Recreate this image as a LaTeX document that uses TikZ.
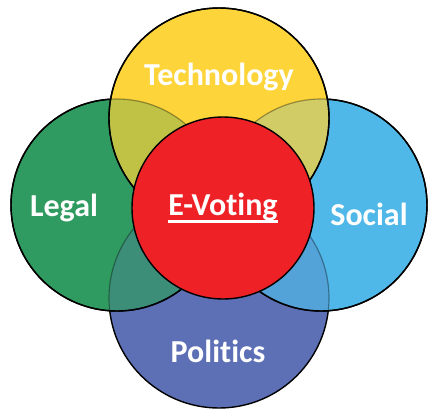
\documentclass[tikz,border=0pt]{standalone}
\usepackage{fontspec}
\usetikzlibrary{calc}
\setmainfont[Ligatures=NoCommon]{Carlito}
\definecolor{techY}{HTML}{FDD43A}
\definecolor{legalG}{HTML}{309B60}
\definecolor{socialB}{HTML}{50B8E8}
\definecolor{polP}{HTML}{5D70B6}
\definecolor{evR}{HTML}{EE2127}
\begin{document}
\begin{tikzpicture}[x=1pt,y=-1pt,
  ring/.style={circle,draw=black,line width=1.4pt,inner sep=0pt},
  lbl/.style={text=white,font=\bfseries\fontsize{32}{34}\selectfont}]
\useasboundingbox (0,0) rectangle (428,410);
\def\polC{(219,298) circle (110)}
\def\legC{(117,205) circle (106)}
\def\socC{(321,205) circle (106)}
\def\tecC{(219,118) circle (110)}
\node[ring,fill=polP,minimum size=220pt] (pol) at (219,298) {};
\node[ring,fill=legalG,minimum size=212pt] (legal) at (117,205) {};
\node[ring,fill=socialB,minimum size=212pt] (social) at (321,205) {};
\begin{scope}
  \clip \legC;
  \fill[polP,opacity=0.3] \polC;
  \draw[black,opacity=0.35,line width=1.2pt] \polC;
\end{scope}
\begin{scope}
  \clip \socC;
  \fill[polP,opacity=0.3] \polC;
  \draw[black,opacity=0.35,line width=1.2pt] \polC;
\end{scope}
\draw[black,line width=1.4pt] \legC \socC;
\node[ring,fill=techY,minimum size=220pt] (tech) at (219,118) {};
\begin{scope}
  \clip \tecC;
  \fill[legalG,opacity=0.3] \legC;
  \fill[socialB,opacity=0.25] \socC;
  \draw[black,opacity=0.35,line width=1.2pt] \legC \socC;
\end{scope}
\draw[black,line width=1.4pt] \tecC;
\node[ring,fill=evR,minimum size=182pt] (ev) at (223,208) {};
\node[lbl] (tt) at (219,77) {Technology};
\node[lbl] (lt) at (64,208) {Legal};
\node[lbl] (st) at (369,214) {Social};
\node[lbl] (pt) at (218,351) {Politics};
\node[lbl,inner sep=0pt] (et) at (223,207) {E-Voting};
\coordinate (ul1) at ($(et.base west)+(0,6)$);
\coordinate (ul2) at ($(et.base east)+(0,6)$);
\draw[white,line width=2.2pt] (ul1) -- (ul2);
\end{tikzpicture}
\end{document}
